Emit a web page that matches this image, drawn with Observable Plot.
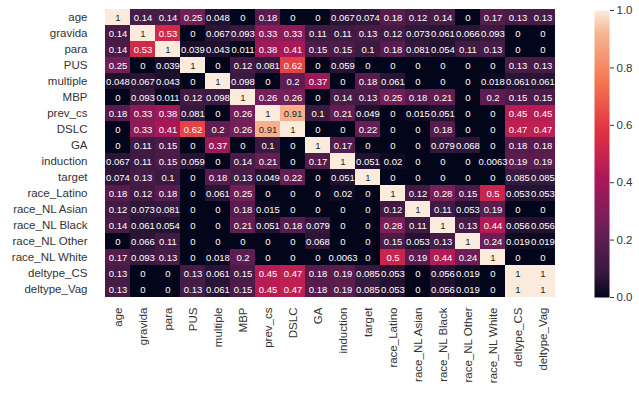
<!DOCTYPE html>
<html>
<head>
<meta charset="utf-8">
<script src="https://cdn.jsdelivr.net/npm/d3@7"></script>
<script src="https://cdn.jsdelivr.net/npm/@observablehq/plot@0.6"></script>
<style>
  html, body { margin: 0; padding: 0; background: #fff; }
  #wrap { position: relative; width: 639px; height: 401px; }
  #wrap > div, #wrap > svg { position: absolute; }
  svg text { font-family: "Liberation Sans", Arial, sans-serif; }
</style>
</head>
<body>
<div id="wrap"></div>
<script>
const variables = ["age","gravida","para","PUS","multiple","MBP","prev_cs","DSLC","GA","induction","target","race_Latino","race_NL Asian","race_NL Black","race_NL Other","race_NL White","deltype_CS","deltype_Vag"];

const age          = [1, 0.14, 0.14, 0.25, 0.048, 0, 0.18, 0, 0, 0.067, 0.074, 0.18, 0.12, 0.14, 0, 0.17, 0.13, 0.13];
const gravida      = [0.14, 1, 0.53, 0, 0.067, 0.093, 0.33, 0.33, 0.11, 0.11, 0.13, 0.12, 0.073, 0.061, 0.066, 0.093, 0, 0];
const para         = [0.14, 0.53, 1, 0.039, 0.043, 0.011, 0.38, 0.41, 0.15, 0.15, 0.1, 0.18, 0.081, 0.054, 0.11, 0.13, 0, 0];
const PUS          = [0.25, 0, 0.039, 1, 0, 0.12, 0.081, 0.62, 0, 0.059, 0, 0, 0, 0, 0, 0, 0.13, 0.13];
const multiple     = [0.048, 0.067, 0.043, 0, 1, 0.098, 0, 0.2, 0.37, 0, 0.18, 0.061, 0, 0, 0, 0.018, 0.061, 0.061];
const MBP          = [0, 0.093, 0.011, 0.12, 0.098, 1, 0.26, 0.26, 0, 0.14, 0.13, 0.25, 0.18, 0.21, 0, 0.2, 0.15, 0.15];
const prev_cs      = [0.18, 0.33, 0.38, 0.081, 0, 0.26, 1, 0.91, 0.1, 0.21, 0.049, 0, 0.015, 0.051, 0, 0, 0.45, 0.45];
const DSLC         = [0, 0.33, 0.41, 0.62, 0.2, 0.26, 0.91, 1, 0, 0, 0.22, 0, 0, 0.18, 0, 0, 0.47, 0.47];
const GA           = [0, 0.11, 0.15, 0, 0.37, 0, 0.1, 0, 1, 0.17, 0, 0, 0, 0.079, 0.068, 0, 0.18, 0.18];
const induction    = [0.067, 0.11, 0.15, 0.059, 0, 0.14, 0.21, 0, 0.17, 1, 0.051, 0.02, 0, 0, 0, 0.0063, 0.19, 0.19];
const target       = [0.074, 0.13, 0.1, 0, 0.18, 0.13, 0.049, 0.22, 0, 0.051, 1, 0, 0, 0, 0, 0, 0.085, 0.085];
const race_Latino  = [0.18, 0.12, 0.18, 0, 0.061, 0.25, 0, 0, 0, 0.02, 0, 1, 0.12, 0.28, 0.15, 0.5, 0.053, 0.053];
const race_NL_Asian= [0.12, 0.073, 0.081, 0, 0, 0.18, 0.015, 0, 0, 0, 0, 0.12, 1, 0.11, 0.053, 0.19, 0, 0];
const race_NL_Black= [0.14, 0.061, 0.054, 0, 0, 0.21, 0.051, 0.18, 0.079, 0, 0, 0.28, 0.11, 1, 0.13, 0.44, 0.056, 0.056];
const race_NL_Other= [0, 0.066, 0.11, 0, 0, 0, 0, 0, 0.068, 0, 0, 0.15, 0.053, 0.13, 1, 0.24, 0.019, 0.019];
const race_NL_White= [0.17, 0.093, 0.13, 0, 0.018, 0.2, 0, 0, 0, 0.0063, 0, 0.5, 0.19, 0.44, 0.24, 1, 0, 0];
const deltype_CS   = [0.13, 0, 0, 0.13, 0.061, 0.15, 0.45, 0.47, 0.18, 0.19, 0.085, 0.053, 0, 0.056, 0.019, 0, 1, 1];
const deltype_Vag  = [0.13, 0, 0, 0.13, 0.061, 0.15, 0.45, 0.47, 0.18, 0.19, 0.085, 0.053, 0, 0.056, 0.019, 0, 1, 1];

const rows = [age, gravida, para, PUS, multiple, MBP, prev_cs, DSLC, GA, induction, target, race_Latino, race_NL_Asian, race_NL_Black, race_NL_Other, race_NL_White, deltype_CS, deltype_Vag];

const colorbarTicks = [0, 0.2, 0.4, 0.6, 0.8, 1.0];

// seaborn "rocket" colormap anchors
const rocketStops = [0, 0.083, 0.25, 0.417, 0.583, 0.75, 0.917, 1];
const rocketColors = ["#03051A", "#35193E", "#701F57", "#AD1759", "#E13342", "#F37651", "#F6B48F", "#FAEBDD"];

const cells = [];
rows.forEach((r, i) => r.forEach((v, j) => cells.push({row: variables[i], col: variables[j], value: v})));

const fmt = v => {
  if (v === 0) return "0";
  if (v === 1) return "1";
  return String(+v.toPrecision(2));
};

const colorOpts = {type: "linear", domain: rocketStops, range: rocketColors, interpolate: "rgb"};

const main = Plot.plot({
  width: 639,
  height: 401,
  marginLeft: 96,
  marginRight: 76,
  marginTop: 9,
  marginBottom: 104,
  style: {fontFamily: "Liberation Sans, Arial, sans-serif", background: "transparent"},
  x: {domain: variables, padding: 0, label: null},
  y: {domain: variables, padding: 0, label: null},
  color: colorOpts,
  marks: [
    Plot.cell(cells, {x: "col", y: "row", fill: "value", inset: 0}),
    Plot.text(cells, {
      x: "col", y: "row", text: d => fmt(d.value),
      fill: d => d.value > 0.75 ? "#262626" : "#ffffff",
      fontSize: 9.5
    }),
    Plot.axisX({tickSize: 0, tickRotate: -90, tickPadding: 10, fontSize: 11.5, fill: "#333333", label: null, textAnchor: "end"}),
    Plot.axisY({tickSize: 0, tickPadding: 9, fontSize: 11.5, fill: "#333333", label: null})
  ]
});
main.style.left = "0px";
main.style.top = "0px";
document.getElementById("wrap").appendChild(main);

const bar = Plot.plot({
  width: 45,
  height: 287,
  marginLeft: 0,
  marginRight: 30,
  marginTop: 0,
  marginBottom: 0,
  style: {fontFamily: "Liberation Sans, Arial, sans-serif", background: "transparent", overflow: "visible"},
  x: {domain: [0, 1], axis: null},
  y: {domain: [0, 1], axis: null},
  color: colorOpts,
  marks: [
    Plot.raster({x1: 0, x2: 1, y1: 0, y2: 1, width: 1, height: 287, fill: (x, y) => y, imageRendering: "auto"}),
    Plot.axisY(colorbarTicks, {anchor: "right", tickSize: 4, tickPadding: 3, tickFormat: d3.format(".1f"), fontSize: 11.5, fill: "#333333", stroke: "#333333", label: null})
  ]
});
bar.style.left = "594px";
bar.style.top = "10px";
document.getElementById("wrap").appendChild(bar);
</script>
</body>
</html>
